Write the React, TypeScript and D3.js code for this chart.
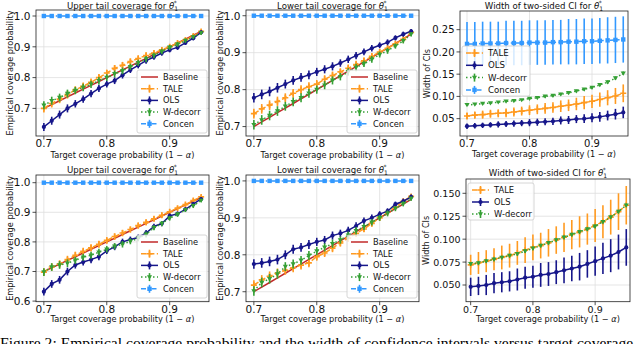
import React from 'react';
import * as d3 from 'd3';

// target coverage 1 - alpha
const alphaGrid = [0.7, 0.7125, 0.725, 0.7375, 0.75, 0.7625, 0.775, 0.7875, 0.8, 0.8125, 0.825,
  0.8375, 0.85, 0.8625, 0.875, 0.8875, 0.9, 0.9125, 0.925, 0.9375, 0.95];

// top row: upper tail
const upA_tale = [0.700, 0.716, 0.730, 0.745, 0.760, 0.772, 0.785, 0.800, 0.815, 0.830, 0.840,
  0.852, 0.862, 0.872, 0.880, 0.890, 0.900, 0.912, 0.922, 0.935, 0.950];
const upA_ols = [0.640, 0.660, 0.680, 0.700, 0.715, 0.730, 0.748, 0.765, 0.779, 0.790, 0.808,
  0.825, 0.840, 0.855, 0.867, 0.880, 0.890, 0.898, 0.913, 0.928, 0.947];
const upA_wdec = [0.710, 0.725, 0.735, 0.748, 0.758, 0.768, 0.778, 0.790, 0.800, 0.812, 0.822,
  0.835, 0.848, 0.860, 0.872, 0.885, 0.898, 0.908, 0.920, 0.932, 0.945];
const concenCov = [1, 1, 1, 1, 1, 1, 1, 1, 1, 1, 1, 1, 1, 1, 1, 1, 1, 1, 1, 1, 1];

// top row: lower tail
const loA_tale = [0.735, 0.748, 0.758, 0.768, 0.778, 0.790, 0.800, 0.808, 0.815, 0.828, 0.838,
  0.848, 0.858, 0.868, 0.878, 0.890, 0.902, 0.912, 0.924, 0.936, 0.955];
const loA_ols = [0.778, 0.787, 0.795, 0.805, 0.815, 0.825, 0.833, 0.840, 0.848, 0.855, 0.863,
  0.872, 0.882, 0.892, 0.902, 0.912, 0.920, 0.928, 0.940, 0.950, 0.958];
const loA_wdec = [0.705, 0.718, 0.730, 0.742, 0.755, 0.767, 0.778, 0.790, 0.800, 0.812, 0.825,
  0.835, 0.848, 0.860, 0.870, 0.882, 0.895, 0.905, 0.918, 0.932, 0.950];

// bottom row: upper tail
const upB_tale = [0.698, 0.715, 0.725, 0.740, 0.755, 0.768, 0.780, 0.792, 0.805, 0.818, 0.830,
  0.842, 0.855, 0.866, 0.878, 0.890, 0.902, 0.914, 0.926, 0.940, 0.952];
const upB_ols = [0.632, 0.658, 0.672, 0.700, 0.722, 0.732, 0.740, 0.750, 0.770, 0.783, 0.800,
  0.808, 0.815, 0.830, 0.852, 0.862, 0.888, 0.895, 0.910, 0.928, 0.945];
const upB_wdec = [0.698, 0.715, 0.722, 0.728, 0.738, 0.748, 0.755, 0.765, 0.775, 0.785, 0.792,
  0.802, 0.812, 0.825, 0.848, 0.862, 0.880, 0.893, 0.908, 0.922, 0.940];

// bottom row: lower tail
const loB_tale = [0.718, 0.732, 0.742, 0.750, 0.758, 0.765, 0.772, 0.778, 0.795, 0.805, 0.818,
  0.832, 0.845, 0.858, 0.870, 0.885, 0.900, 0.915, 0.930, 0.945, 0.958];
const loB_ols = [0.775, 0.778, 0.782, 0.787, 0.800, 0.815, 0.820, 0.828, 0.835, 0.840, 0.852,
  0.858, 0.866, 0.878, 0.892, 0.900, 0.910, 0.918, 0.937, 0.945, 0.957];
const loB_wdec = [0.702, 0.725, 0.735, 0.748, 0.768, 0.775, 0.785, 0.798, 0.810, 0.820, 0.830,
  0.840, 0.853, 0.865, 0.876, 0.888, 0.900, 0.912, 0.925, 0.938, 0.952];

// coverage error bars (half widths)
const covErr = [0.013, 0.013, 0.013, 0.013, 0.012, 0.012, 0.012, 0.012, 0.011, 0.011, 0.011,
  0.010, 0.010, 0.010, 0.009, 0.009, 0.008, 0.008, 0.007, 0.007, 0.006];
const concenCovErr = [0.001, 0.001, 0.001, 0.001, 0.001, 0.001, 0.001, 0.001, 0.001, 0.001, 0.001,
  0.001, 0.001, 0.001, 0.001, 0.001, 0.001, 0.001, 0.001, 0.001, 0.001];

// top row: width of two-sided CI
const wA_tale = [0.056, 0.058, 0.059, 0.061, 0.062, 0.063, 0.065, 0.067, 0.069, 0.071, 0.073,
  0.075, 0.078, 0.080, 0.083, 0.086, 0.089, 0.093, 0.097, 0.101, 0.107];
const wA_taleErr = [0.008, 0.008, 0.009, 0.009, 0.009, 0.010, 0.010, 0.010, 0.011, 0.011, 0.012,
  0.012, 0.013, 0.013, 0.014, 0.015, 0.015, 0.016, 0.017, 0.018, 0.020];
const wA_ols = [0.033, 0.034, 0.035, 0.036, 0.037, 0.038, 0.039, 0.040, 0.041, 0.042, 0.043,
  0.044, 0.046, 0.047, 0.049, 0.050, 0.052, 0.054, 0.057, 0.060, 0.064];
const wA_olsErr = [0.006, 0.006, 0.006, 0.006, 0.007, 0.007, 0.007, 0.007, 0.008, 0.008, 0.008,
  0.008, 0.009, 0.009, 0.009, 0.010, 0.010, 0.011, 0.011, 0.012, 0.013];
const wA_wdec = [0.081, 0.082, 0.084, 0.085, 0.087, 0.089, 0.090, 0.092, 0.095, 0.097, 0.100,
  0.102, 0.105, 0.108, 0.112, 0.116, 0.120, 0.126, 0.132, 0.141, 0.152];
const wA_wdecErr = [0.002, 0.002, 0.002, 0.002, 0.002, 0.002, 0.002, 0.002, 0.002, 0.002, 0.003,
  0.003, 0.003, 0.003, 0.003, 0.003, 0.003, 0.003, 0.004, 0.004, 0.004];
const wA_concen = [0.218, 0.218, 0.219, 0.219, 0.219, 0.220, 0.220, 0.220, 0.221, 0.221, 0.221,
  0.222, 0.222, 0.223, 0.223, 0.224, 0.224, 0.225, 0.226, 0.227, 0.228];
const wA_concenErr = [0.049, 0.049, 0.049, 0.049, 0.049, 0.050, 0.050, 0.050, 0.050, 0.050, 0.050,
  0.050, 0.050, 0.051, 0.051, 0.051, 0.051, 0.051, 0.052, 0.052, 0.052];

// bottom row: width of two-sided CI
const wB_tale = [0.072, 0.074, 0.076, 0.078, 0.080, 0.082, 0.085, 0.088, 0.091, 0.093, 0.096,
  0.099, 0.102, 0.105, 0.108, 0.111, 0.115, 0.119, 0.124, 0.130, 0.137];
const wB_taleErr = [0.011, 0.012, 0.012, 0.012, 0.013, 0.013, 0.013, 0.014, 0.014, 0.014, 0.015,
  0.015, 0.016, 0.016, 0.017, 0.017, 0.018, 0.018, 0.019, 0.020, 0.021];
const wB_ols = [0.048, 0.049, 0.050, 0.052, 0.053, 0.054, 0.056, 0.058, 0.059, 0.061, 0.062,
  0.064, 0.066, 0.068, 0.070, 0.073, 0.076, 0.079, 0.082, 0.086, 0.091];
const wB_olsErr = [0.010, 0.010, 0.011, 0.011, 0.011, 0.011, 0.012, 0.012, 0.012, 0.013, 0.013,
  0.013, 0.014, 0.014, 0.015, 0.015, 0.016, 0.017, 0.018, 0.019, 0.020];
const wB_wdec = [0.073, 0.074, 0.076, 0.078, 0.080, 0.082, 0.084, 0.087, 0.090, 0.093, 0.096,
  0.099, 0.102, 0.105, 0.108, 0.111, 0.114, 0.119, 0.124, 0.130, 0.137];
const wB_wdecErr = [0.002, 0.002, 0.002, 0.002, 0.002, 0.002, 0.002, 0.002, 0.002, 0.002, 0.002,
  0.002, 0.002, 0.002, 0.002, 0.002, 0.002, 0.002, 0.002, 0.002, 0.002];

const xTicks = [0.7, 0.8, 0.9];
const covTicksA = [0.7, 0.8, 0.9, 1.0];
const covTicksB = [0.6, 0.7, 0.8, 0.9, 1.0];
const widthTicksA = [0.05, 0.10, 0.15, 0.20, 0.25];
const widthTicksB = [0.050, 0.075, 0.100, 0.125, 0.150];

const FONT = 'DejaVu Sans, sans-serif';

const STYLE: Record<string, { color: string; dash: string; marker: string }> = {
  Baseline: { color: '#c22a2a', dash: '', marker: 'none' },
  TALE: { color: '#ff9a20', dash: '5.5,2.4', marker: 'plus' },
  OLS: { color: '#16168a', dash: '', marker: 'dot' },
  'W-decorr': { color: '#35a035', dash: '1.5,2.5', marker: 'tri' },
  Concen: { color: '#3399ff', dash: '9.6,2.4,1.5,2.4', marker: 'square' },
};

type Series = { name: string; values: number[]; err?: number[] };

type PanelProps = {
  frame: [number, number, number, number]; // x0, x1, y0, y1
  xDom: [number, number];
  yDom: [number, number];
  yTicks: number[];
  yFmt: (v: number) => string;
  tickFont: number;
  title: string;
  titleY: number;
  ylabel: string;
  ylabelX: number;
  xtickY: number;
  xlabelY: number;
  baseline?: boolean;
  series: Series[];
  legend: { x: number; y: number; w: number; h: number; rowH: number; font: number; items: string[] };
};

const Marker = ({ kind, x, y, color }: { kind: string; x: number; y: number; color: string }) => {
  if (kind === 'plus') {
    return <path d={`M${x - 3},${y}H${x + 3}M${x},${y - 3}V${y + 3}`} stroke={color} strokeWidth={1.6} />;
  }
  if (kind === 'dot') {
    return <circle cx={x} cy={y} r={2.1} fill={color} />;
  }
  if (kind === 'tri') {
    return <path d={`M${x - 2.6},${y - 1.8}L${x + 2.6},${y - 1.8}L${x},${y + 2.4}Z`} fill={color} />;
  }
  if (kind === 'square') {
    return <rect x={x - 2.2} y={y - 2.2} width={4.4} height={4.4} fill={color} />;
  }
  return null;
};

const Title = ({ x, y, text, size }: { x: number; y: number; text: string; size: number }) => (
  <text x={x} y={y} textAnchor="middle" fontSize={size} fontFamily={FONT} fill="#111">
    {text}
    <tspan fontStyle="italic">θ</tspan>
    <tspan fontSize={size * 0.7} dy={2}>1</tspan>
    <tspan fontSize={size * 0.7} dx={-4.4} dy={-6}>*</tspan>
  </text>
);

const Panel = (p: PanelProps) => {
  const [x0, x1, y0, y1] = p.frame;
  const x = d3.scaleLinear().domain(p.xDom).range([x0, x1]);
  const y = d3.scaleLinear().domain(p.yDom).range([y1, y0]);
  const line = d3.line<number>()
    .x((_, i) => x(alphaGrid[i]))
    .y((v) => y(v));
  const cx = (x0 + x1) / 2;
  const cy = (y0 + y1) / 2;
  const lg = p.legend;
  return (
    <g>
      {/* grid */}
      {xTicks.map((t) => (
        <line key={'gx' + t} x1={x(t)} x2={x(t)} y1={y0} y2={y1} stroke="#dedede" strokeWidth={0.8} />
      ))}
      {p.yTicks.map((t) => (
        <line key={'gy' + t} x1={x0} x2={x1} y1={y(t)} y2={y(t)} stroke="#dedede" strokeWidth={0.8} />
      ))}
      {p.baseline && (
        <path d={d3.line<number>().x((v) => x(v)).y((v) => y(v))(alphaGrid) || ''}
          fill="none" stroke={STYLE.Baseline.color} strokeWidth={1.5} />
      )}
      {p.series.map((s) => {
        const st = STYLE[s.name];
        return (
          <g key={s.name}>
            {s.err && s.values.map((v, i) => (
              <line key={i} x1={x(alphaGrid[i])} x2={x(alphaGrid[i])}
                y1={y(v - s.err![i])} y2={y(v + s.err![i])} stroke={st.color} strokeWidth={1.6} />
            ))}
            <path d={line(s.values) || ''} fill="none" stroke={st.color} strokeWidth={1.5}
              strokeDasharray={st.dash || undefined} />
            {s.values.map((v, i) => (
              <Marker key={'m' + i} kind={st.marker} x={x(alphaGrid[i])} y={y(v)} color={st.color} />
            ))}
          </g>
        );
      })}
      {/* frame */}
      <rect x={x0} y={y0} width={x1 - x0} height={y1 - y0} fill="none" stroke="#222" strokeWidth={0.8} />
      {/* x ticks */}
      {xTicks.map((t) => (
        <g key={'xt' + t}>
          <line x1={x(t)} x2={x(t)} y1={y1} y2={y1 + 3.5} stroke="#222" strokeWidth={0.8} />
          <text x={x(t)} y={p.xtickY} textAnchor="middle" fontSize={p.tickFont} fontFamily={FONT} fill="#111">
            {t.toFixed(1)}
          </text>
        </g>
      ))}
      {p.yTicks.map((t) => (
        <g key={'yt' + t}>
          <line x1={x0 - 3.5} x2={x0} y1={y(t)} y2={y(t)} stroke="#222" strokeWidth={0.8} />
          <text x={x0 - 5.5} y={y(t)} dy="0.36em" textAnchor="end" fontSize={p.tickFont} fontFamily={FONT} fill="#111">
            {p.yFmt(t)}
          </text>
        </g>
      ))}
      <Title x={cx} y={p.titleY} text={p.title} size={8.6} />
      <text x={cx} y={p.xlabelY} textAnchor="middle" fontSize={8.2} fontFamily={FONT} fill="#111">
        Target coverage probability (1 − <tspan fontStyle="italic">α</tspan>)
      </text>
      <text transform={`translate(${p.ylabelX},${cy}) rotate(-90)`} textAnchor="middle"
        fontSize={8.2} fontFamily={FONT} fill="#111">
        {p.ylabel}
      </text>
      {/* legend */}
      <rect x={lg.x} y={lg.y} width={lg.w} height={lg.h} rx={2} fill="#fff" fillOpacity={0.8}
        stroke="#cccccc" strokeWidth={0.8} />
      {lg.items.map((name, i) => {
        const st = STYLE[name];
        const ly = lg.y + 7 + i * lg.rowH;
        const hx0 = lg.x + 4;
        const hx1 = hx0 + 17;
        const hm = (hx0 + hx1) / 2;
        return (
          <g key={'lg' + name}>
            {name !== 'Baseline' && (
              <line x1={hm} x2={hm} y1={ly - 4} y2={ly + 4} stroke={st.color} strokeWidth={1.6} />
            )}
            <line x1={hx0} x2={hx1} y1={ly} y2={ly} stroke={st.color} strokeWidth={1.5}
              strokeDasharray={st.dash ? (name === 'Concen' ? '5,2,1.5,2' : st.dash) : undefined} />
            <Marker kind={st.marker} x={hm} y={ly} color={st.color} />
            <text x={hx1 + 5} y={ly} dy="0.35em" fontSize={lg.font} fontFamily={FONT} fill="#111">{name}</text>
          </g>
        );
      })}
    </g>
  );
};

const fmt1 = (v: number) => v.toFixed(1);
const fmt2 = (v: number) => v.toFixed(2);
const fmt3 = (v: number) => v.toFixed(3);

const covLegend = ['Baseline', 'TALE', 'OLS', 'W-decorr', 'Concen'];

export default function App() {
  return (
    <svg width={640} height={344} style={{ position: 'absolute', left: 0, top: 0, background: '#fff' }}>
      <Panel frame={[36, 209, 10, 136]} xDom={[0.6875, 0.9625]} yDom={[0.6104, 1.0195]} yTicks={covTicksA}
        yFmt={fmt1} tickFont={10.5} title="Upper tail coverage for " titleY={8.5} ylabel="Empirical coverage probability"
        ylabelX={12.5} xtickY={147} xlabelY={157.5} baseline
        series={[
          { name: 'TALE', values: upA_tale, err: covErr },
          { name: 'OLS', values: upA_ols, err: covErr },
          { name: 'W-decorr', values: upA_wdec, err: covErr },
          { name: 'Concen', values: concenCov, err: concenCovErr },
        ]}
        legend={{ x: 137, y: 70, w: 70, h: 63, rowH: 11.7, font: 8.3, items: covLegend }} />
      <Panel frame={[246, 419, 10, 136]} xDom={[0.6875, 0.9625]} yDom={[0.6745, 1.0155]} yTicks={covTicksA}
        yFmt={fmt1} tickFont={10.5} title="Lower tail coverage for " titleY={8.5} ylabel="Empirical coverage probability"
        ylabelX={222.5} xtickY={147} xlabelY={157.5} baseline
        series={[
          { name: 'TALE', values: loA_tale, err: covErr },
          { name: 'OLS', values: loA_ols, err: covErr },
          { name: 'W-decorr', values: loA_wdec, err: covErr },
          { name: 'Concen', values: concenCov, err: concenCovErr },
        ]}
        legend={{ x: 347, y: 70, w: 70, h: 63, rowH: 11.7, font: 8.3, items: covLegend }} />
      <Panel frame={[460, 628, 11, 136]} xDom={[0.6888, 0.9576]} yDom={[0.011, 0.292]} yTicks={widthTicksA}
        yFmt={fmt2} tickFont={10} title="Width of two-sided CI for " titleY={9} ylabel="Width of CIs"
        ylabelX={430} xtickY={147} xlabelY={157}
        series={[
          { name: 'TALE', values: wA_tale, err: wA_taleErr },
          { name: 'OLS', values: wA_ols, err: wA_olsErr },
          { name: 'W-decorr', values: wA_wdec, err: wA_wdecErr },
          { name: 'Concen', values: wA_concen, err: wA_concenErr },
        ]}
        legend={{ x: 462, y: 46, w: 68, h: 50, rowH: 12.3, font: 8.6, items: ['TALE', 'OLS', 'W-decorr', 'Concen'] }} />
      <Panel frame={[36, 209, 175, 301.7]} xDom={[0.6875, 0.9625]} yDom={[0.598, 1.026]} yTicks={covTicksB}
        yFmt={fmt1} tickFont={10.5} title="Upper tail coverage for " titleY={173} ylabel="Empirical coverage probability"
        ylabelX={12.5} xtickY={312.5} xlabelY={322} baseline
        series={[
          { name: 'TALE', values: upB_tale, err: covErr },
          { name: 'OLS', values: upB_ols, err: covErr },
          { name: 'W-decorr', values: upB_wdec, err: covErr },
          { name: 'Concen', values: concenCov, err: concenCovErr },
        ]}
        legend={{ x: 137, y: 235, w: 70, h: 63, rowH: 11.7, font: 8.3, items: covLegend }} />
      <Panel frame={[246, 419, 175, 301.7]} xDom={[0.6875, 0.9625]} yDom={[0.673, 1.016]} yTicks={covTicksA}
        yFmt={fmt1} tickFont={10.5} title="Lower tail coverage for " titleY={173} ylabel="Empirical coverage probability"
        ylabelX={222.5} xtickY={312.5} xlabelY={322} baseline
        series={[
          { name: 'TALE', values: loB_tale, err: covErr },
          { name: 'OLS', values: loB_ols, err: covErr },
          { name: 'W-decorr', values: loB_wdec, err: covErr },
          { name: 'Concen', values: concenCov, err: concenCovErr },
        ]}
        legend={{ x: 347, y: 235, w: 70, h: 63, rowH: 11.7, font: 8.3, items: covLegend }} />
      <Panel frame={[466, 630, 179, 301.7]} xDom={[0.6925, 0.956]} yDom={[0.0318, 0.1656]} yTicks={widthTicksB}
        yFmt={fmt3} tickFont={9.5} title="Width of two-sided CI for " titleY={176} ylabel="Width of CIs"
        ylabelX={429} xtickY={312.5} xlabelY={322}
        series={[
          { name: 'TALE', values: wB_tale, err: wB_taleErr },
          { name: 'OLS', values: wB_ols, err: wB_olsErr },
          { name: 'W-decorr', values: wB_wdec, err: wB_wdecErr },
        ]}
        legend={{ x: 468, y: 183, w: 66, h: 37, rowH: 12, font: 8.4, items: ['TALE', 'OLS', 'W-decorr'] }} />
      <text x={0} y={348} fontSize={15.6} fontFamily="Liberation Serif, serif" fill="#000">
        Figure 2: Empirical coverage probability and the width of confidence intervals versus target coverage
      </text>
    </svg>
  );
}
